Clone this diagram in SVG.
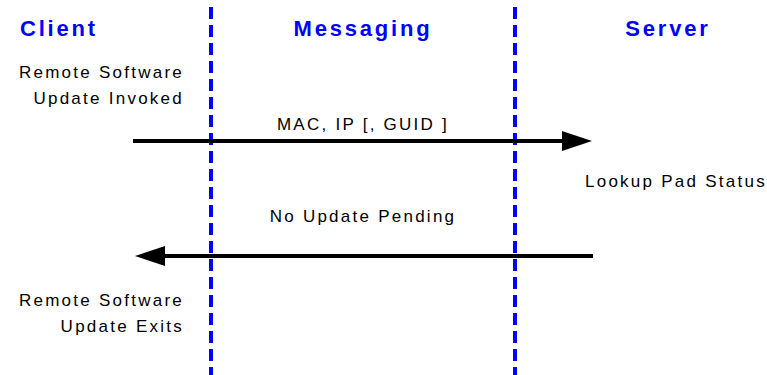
<svg xmlns="http://www.w3.org/2000/svg" width="767" height="375" viewBox="0 0 767 375">
<style>
.hdr{font-family:"Liberation Sans",Arial,sans-serif;font-weight:bold;font-size:22px;fill:#0000ff;letter-spacing:2.8px}
.lbl{font-family:"Liberation Sans",Arial,sans-serif;font-size:17px;fill:#000;letter-spacing:2.25px}
.life{stroke:#0000ff;stroke-width:4;stroke-dasharray:12 6;fill:none}
.msg{stroke:#000;stroke-width:4;fill:none}
</style>
<defs>
<marker id="ah" markerWidth="30" markerHeight="20" refX="0" refY="10" orient="auto" markerUnits="userSpaceOnUse">
<polygon points="0,0 30,10 0,20" fill="#000"/>
</marker>
</defs>
<rect width="767" height="375" fill="#fff"/>
<g id="lifelines">
<line class="life" x1="211" y1="7" x2="211" y2="375"/>
<line class="life" x1="515" y1="7" x2="515" y2="375"/>
</g>
<g id="client"><text class="hdr" x="20" y="36">Client</text></g>
<g id="messaging"><text class="hdr" x="363" y="36" text-anchor="middle">Messaging</text></g>
<g id="server"><text class="hdr" x="668" y="36" text-anchor="middle">Server</text></g>
<g id="client-notes">
<text class="lbl" x="184" y="78" text-anchor="end">Remote Software</text>
<text class="lbl" x="184" y="104" text-anchor="end">Update Invoked</text>
<text class="lbl" x="184" y="306" text-anchor="end">Remote Software</text>
<text class="lbl" x="184" y="332" text-anchor="end">Update Exits</text>
</g>
<g id="server-notes">
<text class="lbl" x="585" y="187">Lookup Pad Status</text>
</g>
<g id="connectors">
<line class="msg" x1="133" y1="141" x2="562" y2="141" marker-end="url(#ah)"/>
<text class="lbl" x="363" y="130" text-anchor="middle">MAC, IP [, GUID ]</text>
<line class="msg" x1="593" y1="256" x2="165" y2="256" marker-end="url(#ah)"/>
<text class="lbl" x="363" y="222" text-anchor="middle">No Update Pending</text>
</g>
</svg>
